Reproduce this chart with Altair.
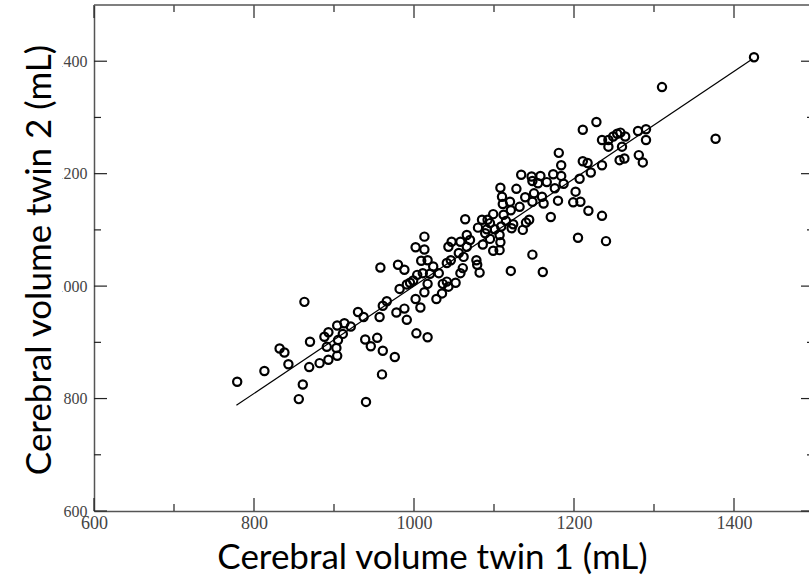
import altair as alt
import pandas as pd

# Cerebral volumes (mL) of each twin pair
twin1 = [
    779, 813, 832, 838, 843, 861, 856, 863, 870, 869, 882, 893, 891, 888, 893,
    904, 903, 904, 905, 913, 911, 921, 930, 937, 939, 946, 954, 961, 960, 940,
    976, 957, 961, 966, 958, 978, 988, 991, 1003, 1017, 1008, 1002, 982, 991,
    980, 988, 995, 1004, 999, 1011, 1013, 1020, 1017, 1028, 1031, 1035, 1036,
    1041, 1043, 1052, 1058, 1061, 1009, 1017, 1002, 1013, 1013, 1024, 1041,
    1046, 1043, 1047, 1058, 1056, 1066, 1066, 1062, 1070, 1078, 1079, 1082,
    1064, 1080, 1425, 1310, 1377, 1228, 1211, 1254, 1280, 1290, 1290, 1235,
    1243, 1243, 1258, 1264, 1260, 1249, 1263, 1257, 1281, 1286, 1235, 1211,
    1217, 1221, 1207, 1181, 1184, 1134, 1147, 1158, 1174, 1184, 1166, 1155,
    1148, 1176, 1187, 1128, 1108, 1110, 1139, 1150, 1160, 1148, 1162, 1180,
    1202, 1199, 1208, 1218, 1235, 1171, 1111, 1120, 1132, 1121, 1099, 1115,
    1124, 1140, 1144, 1136, 1122, 1092, 1085, 1091, 1101, 1089, 1107, 1095,
    1086, 1108, 1107, 1099, 1205, 1240, 1148, 1121, 1161, 1112, 1109, 1095,
]
twin2 = [
    830, 849, 889, 882, 861, 825, 799, 972, 901, 856, 863, 869, 892, 910, 918,
    930, 890, 876, 904, 934, 915, 928, 954, 945, 905, 893, 908, 885, 843, 794,
    874, 945, 965, 973, 1033, 953, 960, 940, 916, 909, 962, 977, 995, 1003,
    1038, 1029, 1006, 1020, 1010, 1023, 989, 1022, 1004, 977, 1023, 987, 1004,
    1008, 999, 1006, 1023, 1032, 1045, 1046, 1069, 1065, 1088, 1035, 1041,
    1046, 1070, 1079, 1079, 1059, 1091, 1070, 1052, 1082, 1046, 1038, 1024,
    1119, 1104, 1407, 1354, 1262, 1292, 1278, 1271, 1276, 1279, 1260, 1260,
    1260, 1248, 1273, 1266, 1248, 1266, 1227, 1224, 1233, 1220, 1215, 1222,
    1219, 1202, 1191, 1237, 1215, 1198, 1195, 1196, 1199, 1196, 1185, 1183,
    1187, 1174, 1182, 1173, 1175, 1159, 1158, 1165, 1159, 1150, 1147, 1152,
    1168, 1149, 1150, 1134, 1125, 1123, 1146, 1150, 1141, 1135, 1128, 1116,
    1110, 1113, 1118, 1100, 1103, 1118, 1118, 1101, 1101, 1094, 1091, 1084,
    1074, 1078, 1064, 1063, 1086, 1080, 1056, 1027, 1025, 1127, 1106, 1112,
]

# Ends of the fitted regression line
fit_twin1 = [778, 1423]
fit_twin2 = [788, 1404]

# Axis tick values
x_major = [600, 800, 1000, 1200, 1400]
x_minor = [700, 900, 1100, 1300]
y_major = [600, 800, 1000, 1200, 1400]
y_minor = [700, 900, 1100, 1300]
x_domain = [600, 1500]
y_domain = [600, 1500]

W, H = 715, 506        # visible plot area
X_SPAN = 720           # pixel length of the full x range
MAJOR, MINOR = 13, 7   # inward tick lengths
FRAME = "#555555"
TICK = "#222222"
TITLE_SIZE = 35

x_scale = alt.Scale(domain=x_domain, range=[0, X_SPAN], nice=False, zero=False)
y_scale = alt.Scale(domain=y_domain, nice=False, zero=False)

x_axis = alt.Axis(
    values=x_major, format="d", ticks=False, grid=False,
    domainColor=FRAME, domainWidth=1.5,
    labelFont="Liberation Serif", labelFontSize=18, labelColor="#444444",
    labelPadding=3, labelFlush=False,
    title="Cerebral volume twin 1 (mL)", titleFont="Lato", titleFontSize=TITLE_SIZE,
    titleFontWeight="normal", titleColor="black",
    titleX=338, titleY=57, titleAlign="center", titleBaseline="alphabetic",
)
y_axis = alt.Axis(
    values=y_major, format="d", ticks=False, grid=False,
    domainColor=FRAME, domainWidth=1.5,
    labelFont="Liberation Serif", labelFontSize=16, labelColor="#444444",
    labelPadding=7, labelFlush=False, title=None,
)

X = alt.X("twin1:Q", scale=x_scale, axis=x_axis)
Y = alt.Y("twin2:Q", scale=y_scale, axis=y_axis)

df = pd.DataFrame({"twin1": twin1, "twin2": twin2})
fit = pd.DataFrame({"twin1": fit_twin1, "twin2": fit_twin2})


def x_ticks(values, y0, y1):
    return alt.Chart(pd.DataFrame({"twin1": values})).mark_rule(
        color=TICK, strokeWidth=1.2
    ).encode(x=X, y=alt.value(y0), y2=alt.value(y1))


def y_ticks(values, x0, x1):
    return alt.Chart(pd.DataFrame({"twin2": values})).mark_rule(
        color=TICK, strokeWidth=1.2
    ).encode(y=Y, x=alt.value(x0), x2=alt.value(x1))


ticks = [
    x_ticks(x_major, H, H - MAJOR), x_ticks(x_minor, H, H - MINOR),
    x_ticks(x_major, 0, MAJOR), x_ticks(x_minor, 0, MINOR),
    y_ticks(y_major, 0, MAJOR), y_ticks(y_minor, 0, MINOR),
    y_ticks(y_major, X_SPAN, X_SPAN - MAJOR), y_ticks(y_minor, X_SPAN, X_SPAN - MINOR),
]

top_frame = alt.Chart(
    pd.DataFrame({"twin1": [x_domain[0]], "end": [x_domain[1]]})
).mark_rule(color=FRAME, strokeWidth=1.5).encode(
    x=X, x2="end:Q", y=alt.value(0)
)

# white strip behind the vertical title
title_strip = alt.Chart(pd.DataFrame({"k": [0]})).mark_rect(color="white").encode(
    x=alt.value(-80), x2=alt.value(-32), y=alt.value(0), y2=alt.value(H)
)

y_title = alt.Chart(
    pd.DataFrame({"t": ["Cerebral volume twin 2 (mL)"]})
).mark_text(
    angle=270, font="Lato", fontSize=TITLE_SIZE, color="black",
    align="center", baseline="middle",
).encode(text="t:N", x=alt.value(-54), y=alt.value(255))

line = alt.Chart(fit).mark_line(color="black", strokeWidth=1.2).encode(x=X, y=Y)

points = alt.Chart(df).mark_point(
    shape="circle", filled=False, color="black", strokeWidth=2.2,
    size=68, opacity=1,
).encode(x=X, y=Y)

chart = alt.layer(
    title_strip, y_title, *ticks, top_frame, line, points
).properties(
    width=W, height=H,
    padding={"left": 94, "top": 5, "right": 0, "bottom": 71},
    autosize=alt.AutoSizeParams(type="none"),
).configure_view(stroke=None)

chart.save("out.html", embed_options={"renderer": "svg", "actions": False})
